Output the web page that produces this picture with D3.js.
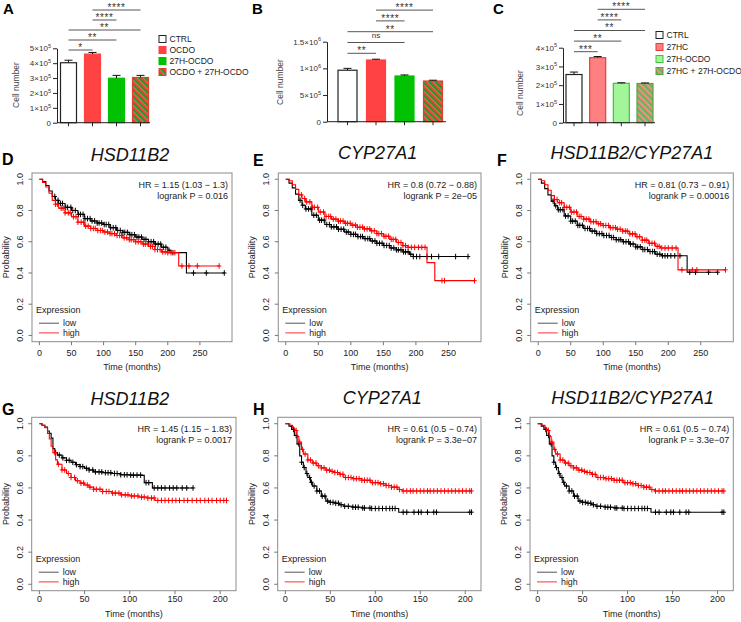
<!DOCTYPE html>
<html><head><meta charset="utf-8">
<script src="https://cdn.jsdelivr.net/npm/d3@7"></script>
<style>body{margin:0;background:#fff}svg{display:block;font-family:"Liberation Sans",Arial,sans-serif}</style>
</head><body><svg id="c" width="741" height="622"></svg>
<script>
// ---------- Bar chart data ----------
const barCatsA = ["CTRL","OCDO","27H-OCDO","OCDO + 27H-OCDO"];
const barMeansA = [4.03e5, 4.61e5, 2.99e5, 3.04e5];
const barErrsA = [0.17e5, 0.11e5, 0.19e5, 0.14e5];
const sigPairsA = [[0,1,"*"],[0,2,"**"],[0,3,"**"],[1,2,"****"],[1,3,"****"]];
const yTicksA = [0,1e5,2e5,3e5,4e5,5e5];
const yTickLabelsA = ["0","1×10^5","2×10^5","3×10^5","4×10^5","5×10^5"];

const barCatsB = ["CTRL","OCDO","27H-OCDO","OCDO + 27H-OCDO"];
const barMeansB = [9.65e5, 1.157e6, 8.57e5, 7.63e5];
const barErrsB = [0.35e5, 0.15e5, 0.2e5, 0.15e5];
const sigPairsB = [[0,1,"**"],[0,2,"ns"],[0,3,"**"],[1,2,"****"],[1,3,"****"]];
const yTicksB = [0,5e5,1e6,1.5e6];
const yTickLabelsB = ["0","5×10^5","1×10^6","1.5×10^6"];

const barCatsC = ["CTRL","27HC","27H-OCDO","27HC + 27H-OCDO"];
const barMeansC = [2.57e5, 3.47e5, 2.10e5, 2.09e5];
const barErrsC = [0.13e5, 0.06e5, 0.03e5, 0.03e5];
const sigPairsC = [[0,1,"***"],[0,2,"**"],[0,3,"**"],[1,2,"****"],[1,3,"****"]];
const yTicksC = [0,1e5,2e5,3e5,4e5];
const yTickLabelsC = ["0","1×10^5","2×10^5","3×10^5","4×10^5"];

// ---------- Kaplan-Meier data: [months, survival probability] ----------
const xTicksRow1 = [0,50,100,150,200,250];
const xTicksRow2 = [0,50,100,150,200];
const yTicksKM = [0,0.2,0.4,0.6,0.8,1.0];

const dLow = [[0,1],[5,0.985],[10,0.96],[15,0.925],[20,0.89],[25,0.865],[30,0.845],[40,0.82],[50,0.80],[60,0.775],[70,0.748],[80,0.733],[90,0.72],[100,0.71],[110,0.69],[120,0.672],[130,0.66],[140,0.645],[150,0.63],[160,0.615],[170,0.60],[180,0.585],[190,0.565],[200,0.545],[205,0.53],[229,0.40],[288,0.40]];
const dHigh = [[0,1],[5,0.98],[10,0.95],[15,0.91],[20,0.865],[25,0.84],[30,0.815],[40,0.785],[50,0.76],[60,0.725],[70,0.70],[80,0.685],[90,0.672],[100,0.662],[110,0.652],[120,0.64],[130,0.625],[140,0.613],[150,0.60],[160,0.585],[170,0.57],[180,0.55],[190,0.535],[200,0.53],[217,0.445],[280,0.445]];
const dLowCens = [24,29,33,36,41,44,49,52,56,61,64,68,71,75,79,82,86,90,93,97,101,104,108,111,115,119,122,126,130,133,137,141,144,148,152,155,159,163,166,170,174,178,181,185,189,193,197,202,208,240,260,288];
const dHighCens = [25,28,34,37,40,45,48,53,57,60,65,69,72,76,80,84,87,91,95,98,102,106,110,113,117,121,125,128,132,136,140,143,147,150,154,158,162,165,169,173,176,180,184,188,192,196,200,205,211,222,233,246,280];

const eLow = [[0,1],[5,0.975],[10,0.945],[15,0.905],[20,0.865],[25,0.834],[30,0.81],[40,0.77],[50,0.738],[60,0.71],[70,0.695],[80,0.68],[90,0.662],[100,0.647],[110,0.633],[120,0.62],[130,0.605],[140,0.59],[150,0.576],[160,0.56],[170,0.548],[180,0.535],[190,0.52],[196,0.505],[281,0.505]];
const eHigh = [[0,1],[5,0.99],[10,0.965],[15,0.935],[20,0.9],[25,0.877],[30,0.855],[40,0.82],[50,0.79],[60,0.762],[70,0.745],[80,0.732],[90,0.718],[100,0.706],[110,0.693],[120,0.682],[130,0.67],[140,0.652],[150,0.635],[160,0.615],[170,0.595],[180,0.575],[188,0.564],[217,0.466],[229,0.351],[290,0.351]];
const eLowCens = [22,26,31,35,39,43,47,52,55,59,63,67,70,74,78,81,85,89,93,96,100,104,107,111,115,118,122,126,129,133,137,140,144,148,151,155,159,162,166,170,173,177,181,184,188,192,196,201,206,217,224,235,261,280];
const eHighCens = [24,29,32,37,41,44,49,53,58,62,66,69,73,77,81,84,88,92,95,99,103,107,110,114,118,121,125,129,132,136,140,143,147,151,154,158,162,165,169,173,177,180,184,188,193,198,204,209,214,240,244,290];

const fLow = [[0,1],[5,0.975],[10,0.94],[15,0.9],[20,0.86],[25,0.83],[30,0.805],[40,0.765],[50,0.732],[60,0.705],[70,0.685],[80,0.668],[90,0.652],[100,0.64],[110,0.627],[120,0.613],[130,0.6],[140,0.585],[150,0.567],[160,0.55],[170,0.537],[180,0.52],[190,0.51],[229,0.405],[276,0.405]];
const fHigh = [[0,1],[5,0.99],[10,0.965],[15,0.93],[20,0.895],[25,0.87],[30,0.85],[40,0.82],[50,0.79],[60,0.762],[70,0.745],[80,0.728],[90,0.715],[100,0.704],[110,0.69],[120,0.68],[130,0.668],[140,0.65],[150,0.632],[160,0.61],[170,0.59],[180,0.57],[188,0.56],[215,0.42],[288,0.42]];
const fLowCens = [23,27,31,34,38,42,46,50,53,57,61,64,68,72,76,79,83,87,90,94,98,101,105,109,113,116,120,124,127,131,135,139,142,146,150,153,157,161,164,168,172,176,179,183,187,191,195,199,204,210,218,233,242,262,276];
const fHighCens = [25,29,33,36,40,44,48,51,55,59,63,66,70,74,78,81,85,89,93,96,100,104,108,111,115,119,122,126,130,134,137,141,145,149,152,156,160,164,167,171,175,179,183,186,190,195,200,206,212,221,237,244,288];

const gLow = [[0,1],[3,0.99],[6,0.98],[9,0.955],[11,0.94],[13,0.91],[15,0.845],[17,0.82],[20,0.805],[25,0.787],[30,0.772],[35,0.76],[40,0.745],[45,0.733],[50,0.722],[55,0.712],[60,0.70],[70,0.695],[80,0.69],[90,0.682],[100,0.68],[114,0.678],[116,0.633],[125,0.60],[170,0.60]];
const gHigh = [[0,1],[3,0.99],[6,0.975],[9,0.94],[11,0.905],[13,0.86],[15,0.82],[18,0.775],[20,0.748],[25,0.712],[30,0.69],[35,0.665],[40,0.645],[45,0.63],[50,0.618],[55,0.605],[60,0.592],[70,0.578],[80,0.568],[90,0.557],[100,0.55],[110,0.543],[120,0.537],[128,0.522],[207,0.522]];
const gLowCens = [18,22,26,30,33,37,41,45,48,52,55,59,62,66,69,73,76,79,83,86,90,94,97,101,104,108,112,118,121,127,131,135,139,144,148,152,158,163,170];
const gHighCens = [17,21,25,28,32,35,39,42,46,49,53,56,60,63,67,70,74,77,81,84,88,91,95,98,102,105,109,113,116,120,124,127,131,135,139,143,147,151,155,160,164,169,174,178,183,187,191,196,200,204,207];

const hLow = [[0,1],[4,0.985],[7,0.965],[10,0.927],[13,0.874],[16,0.80],[18,0.76],[20,0.727],[23,0.69],[25,0.665],[28,0.635],[30,0.612],[35,0.581],[40,0.549],[45,0.518],[50,0.51],[55,0.505],[60,0.495],[65,0.486],[75,0.48],[85,0.475],[95,0.472],[126,0.449],[207,0.449]];
const hHigh = [[0,1],[5,0.99],[8,0.975],[10,0.958],[13,0.92],[15,0.885],[18,0.84],[20,0.811],[25,0.774],[30,0.755],[35,0.738],[40,0.725],[45,0.711],[50,0.703],[55,0.696],[60,0.685],[65,0.665],[75,0.658],[85,0.648],[95,0.633],[105,0.626],[112,0.615],[118,0.605],[125,0.59],[130,0.581],[207,0.581]];
const hLowCens = [9,12,15,18,21,24,27,29,32,35,38,41,44,47,50,53,56,59,62,66,70,75,78,81,86,88,94,96,100,104,108,112,116,119,122,131,135,143,148,151,158,165,168,205,207];
const hHighCens = [12,16,19,22,25,28,31,34,37,40,43,46,49,52,55,58,61,64,67,70,73,76,79,82,85,88,91,94,97,100,103,106,109,112,115,118,121,124,127,131,135,139,142,146,150,154,158,161,165,169,173,177,181,185,189,193,197,201,205,207];

// ---------- drawing ----------
const svg = d3.select("#c");
svg.append("rect").attr("width",741).attr("height",622).attr("fill","#fff");
const defs = svg.append("defs");
function stripe(id, c1, c2) {
  const p = defs.append("pattern").attr("id", id).attr("patternUnits","userSpaceOnUse")
    .attr("width",4.4).attr("height",4.4).attr("patternTransform","rotate(-45)");
  p.append("rect").attr("width",2.2).attr("height",4.4).attr("fill",c1);
  p.append("rect").attr("x",2.2).attr("width",2.2).attr("height",4.4).attr("fill",c2);
}
stripe("stripeA", "#ff3a3a", "#1f9a1f");
stripe("stripeC", "#f58080", "#5cb84f");

function superLabel(sel, str, fs) {
  const parts = str.split("^");
  sel.text(null);
  sel.append("tspan").text(parts[0]);
  if (parts[1]) sel.append("tspan").attr("dy", -3.3).attr("font-size", fs * 0.7).text(parts[1]);
}

function drawBar(L, cats, means, errs, sigs, ticks, tickLabels) {
  const g = svg.append("g");
  const x = d3.scalePoint().domain(cats).range([L.x0, L.x1]);
  const y = d3.scaleLinear().domain([0, L.yMax]).range([L.base, L.top]);
  g.selectAll("rect.bar").data(cats).join("rect")
    .attr("x", d => x(d) - L.bw / 2).attr("y", (d, i) => y(means[i]))
    .attr("width", L.bw).attr("height", (d, i) => y(0) - y(means[i]))
    .attr("fill", (d, i) => L.fills[i]).attr("stroke", (d, i) => L.strokes[i]).attr("stroke-width", 1.2);
  cats.forEach((c, i) => {
    const cx = x(c), y0 = y(means[i]), y1 = y(means[i] + errs[i]);
    g.append("path").attr("d", `M${cx},${y0}V${y1}M${cx - 4},${y1}H${cx + 4}`)
      .attr("stroke", "#111").attr("stroke-width", 1).attr("fill", "none");
  });
  const ax = g.append("g").attr("transform", `translate(${L.axisX},0)`)
    .call(d3.axisLeft(y).tickValues(ticks).tickSize(4).tickSizeOuter(0).tickPadding(2));
  ax.select(".domain").attr("stroke", "#222");
  ax.selectAll(".tick line").attr("stroke", "#222");
  ax.selectAll(".tick text").attr("font-size", 8).attr("fill", "#333")
    .attr("font-family", '"Liberation Sans",Arial,sans-serif')
    .each(function (d, i) { superLabel(d3.select(this), tickLabels[i], 8); });
  g.append("line").attr("x1", L.axisX).attr("x2", L.xEnd).attr("y1", L.base).attr("y2", L.base)
    .attr("stroke", "#222").attr("stroke-width", 1);
  cats.forEach(c => g.append("line").attr("x1", x(c)).attr("x2", x(c)).attr("y1", L.base).attr("y2", L.base + 3.5)
    .attr("stroke", "#222"));
  g.append("text").attr("transform", `translate(${L.labX},${L.labY}) rotate(-90)`)
    .attr("text-anchor", "middle").attr("font-size", 8.5).attr("fill", "#444").text("Cell number");
  sigs.forEach((s, k) => {
    const yy = L.sigBase - k * L.sigStep;
    const xa = x(cats[s[0]]), xb = x(cats[s[1]]);
    g.append("line").attr("x1", xa).attr("x2", xb).attr("y1", yy).attr("y2", yy)
      .attr("stroke", "#555").attr("stroke-width", 1);
    const isNs = s[2] === "ns";
    g.append("text").attr("x", (xa + xb) / 2).attr("y", isNs ? yy - 4.5 : yy + 0.8)
      .attr("text-anchor", "middle").attr("font-size", isNs ? 8 : 10).attr("fill", "#333")
      .attr("letter-spacing", isNs ? 0 : 0.6).text(s[2]);
  });
  svg.append("text").attr("x", L.letX).attr("y", 14).attr("font-size", 15).attr("font-weight", "bold").text(L.letter);
  if (L.legX !== undefined) {
    cats.forEach((c, i) => {
      const ly = L.legY + i * L.legStep;
      g.append("rect").attr("x", L.legX).attr("y", ly - 3.5).attr("width", 7).attr("height", 7)
        .attr("fill", L.fills[i]).attr("stroke", L.strokes[i]).attr("stroke-width", 1);
      g.append("text").attr("x", L.legX + 10.5).attr("y", ly).attr("dy", "0.35em")
        .attr("font-size", 8.5).attr("fill", "#222").text(c);
    });
  }
}

drawBar({letter:"A", letX:3, axisX:57, x0:68.5, x1:140.5, bw:16, base:122.7, top:48.3, yMax:5e5, xEnd:150,
  fills:["#fff","#ff4242","#00c200","url(#stripeA)"], strokes:["#222","#ff4242","#00c200","#e04030"],
  labX:19, labY:85, sigBase:50, sigStep:10, legX:159, legY:39, legStep:11},
  barCatsA, barMeansA, barErrsA, sigPairsA, yTicksA, yTickLabelsA);
drawBar({letter:"B", letX:252, axisX:327, x0:347.5, x1:433, bw:19, base:121.7, top:41.7, yMax:1.5e6, xEnd:446,
  fills:["#fff","#ff4242","#00c200","url(#stripeA)"], strokes:["#222","#ff4242","#00c200","#e04030"],
  labX:283, labY:82, sigBase:53.3, sigStep:10.8},
  barCatsB, barMeansB, barErrsB, sigPairsB, yTicksB, yTickLabelsB);
drawBar({letter:"C", letX:493, axisX:563, x0:574, x1:645, bw:16, base:122.7, top:47.7, yMax:4e5, xEnd:655,
  fills:["#fff","#ff8080","#a3f59a","url(#stripeC)"], strokes:["#222","#e83c3c","#42c042","#4aa83c"],
  labX:523, labY:93, sigBase:51.7, sigStep:10.6, legX:656, legY:35, legStep:12},
  barCatsC, barMeansC, barErrsC, sigPairsC, yTicksC, yTickLabelsC);

// ---------- KM panels ----------
function stepValue(curve, t) {
  let v = curve[0][1];
  for (const p of curve) { if (p[0] <= t) v = p[1]; else break; }
  return v;
}
function drawKM(P, low, high, lowCens, highCens, xTicks) {
  const g = svg.append("g");
  const x = d3.scaleLinear().domain(P.xDom).range([P.left, P.right]);
  const y = d3.scaleLinear().domain([-0.04, 1.04]).range([P.bottom, P.top]);
  const line = d3.line().x(d => x(d[0])).y(d => y(d[1])).curve(d3.curveStepAfter);
  [[low, lowCens, "#000"], [high, highCens, "#ff0000"]].forEach(([cv, cens, col]) => {
    g.append("path").attr("d", line(cv)).attr("fill", "none").attr("stroke", col).attr("stroke-width", 1.1);
    g.append("path").attr("d", cens.map(t => {
      const cx = x(t), cy = y(stepValue(cv, t));
      return `M${cx - 2.2},${cy}H${cx + 2.2}M${cx},${cy - 2.8}V${cy + 2.8}`;
    }).join("")).attr("stroke", col).attr("stroke-width", 1).attr("fill", "none");
  });
  g.append("rect").attr("x", P.left).attr("y", P.top).attr("width", P.right - P.left).attr("height", P.bottom - P.top)
    .attr("fill", "none").attr("stroke", "#8c8c8c").attr("stroke-width", 1);
  xTicks.forEach(t => {
    g.append("line").attr("x1", x(t)).attr("x2", x(t)).attr("y1", P.bottom).attr("y2", P.bottom + 3.5).attr("stroke", "#777");
    g.append("text").attr("x", x(t)).attr("y", P.bottom + P.xLabOff).attr("dy", "0.35em")
      .attr("text-anchor", "middle").attr("font-size", 9).attr("fill", "#222").text(t);
  });
  yTicksKM.forEach(v => {
    g.append("line").attr("x1", P.left - 3.5).attr("x2", P.left).attr("y1", y(v)).attr("y2", y(v)).attr("stroke", "#777");
    g.append("text").attr("transform", `translate(${P.left - 12},${y(v)}) rotate(-90)`).attr("dy", "0.35em")
      .attr("text-anchor", "middle").attr("font-size", 9).attr("fill", "#222").text(v.toFixed(1));
  });
  g.append("text").attr("x", (P.left + P.right) / 2).attr("y", P.bottom + P.xTitleOff).attr("dy", "0.35em")
    .attr("text-anchor", "middle").attr("font-size", 9).attr("fill", "#222").text("Time (months)");
  g.append("text").attr("transform", `translate(${P.left - 26},${(P.top + P.bottom) / 2}) rotate(-90)`).attr("dy", "0.35em")
    .attr("text-anchor", "middle").attr("font-size", 9).attr("fill", "#222").text("Probability");
  g.append("text").attr("x", P.right - 4).attr("y", P.top + 15).attr("text-anchor", "end")
    .attr("font-size", 9).attr("fill", "#222").text(P.hr);
  g.append("text").attr("x", P.right - 4).attr("y", P.top + 26).attr("text-anchor", "end")
    .attr("font-size", 9).attr("fill", "#222").text(P.p);
  // legend
  g.append("text").attr("x", P.left + 4).attr("y", P.bottom - 28.5).attr("font-size", 9).attr("fill", "#222").text("Expression");
  [["low", "#555", -18.5], ["high", "#ff3030", -8.8]].forEach(([lab, col, off]) => {
    g.append("line").attr("x1", P.left + 7).attr("x2", P.left + 27).attr("y1", P.bottom + off).attr("y2", P.bottom + off)
      .attr("stroke", col).attr("stroke-width", 1);
    g.append("text").attr("x", P.left + 31).attr("y", P.bottom + off).attr("dy", "0.33em")
      .attr("font-size", 8.8).attr("fill", "#222").text(lab);
  });
  svg.append("text").attr("x", (P.left + P.right) / 2 + P.titleDx).attr("y", P.titleY).attr("text-anchor", "middle")
    .attr("font-size", 18).attr("font-style", "italic").attr("fill", "#111").text(P.title);
  svg.append("text").attr("x", P.letX).attr("y", P.letY).attr("font-size", 16).attr("font-weight", "bold").text(P.letter);
}

const row1 = {top:173, bottom:341.7, xDom:[-11.5,300], xLabOff:11, xTitleOff:25};
const row2 = {top:417.3, bottom:590.7, xDom:[-8.5,217.5], xLabOff:8.5, xTitleOff:23};

drawKM({...row1, left:32, right:232, title:"HSD11B2", titleY:161, titleDx:-2, letter:"D", letX:2, letY:165,
  hr:"HR = 1.15 (1.03 − 1.3)", p:"logrank P = 0.016"}, dLow, dHigh, dLowCens, dHighCens, xTicksRow1);
drawKM({...row1, left:278.3, right:481, title:"CYP27A1", titleY:159, titleDx:-2, letter:"E", letX:253, letY:166,
  hr:"HR = 0.8 (0.72 − 0.88)", p:"logrank P = 2e−05"}, eLow, eHigh, eLowCens, eHighCens, xTicksRow1);
drawKM({...row1, left:530.7, right:733.3, title:"HSD11B2/CYP27A1", titleY:159, titleDx:0, letter:"F", letX:497, letY:166,
  hr:"HR = 0.81 (0.73 − 0.91)", p:"logrank P = 0.00016"}, fLow, fHigh, fLowCens, fHighCens, xTicksRow1);
drawKM({...row2, left:31.7, right:236, title:"HSD11B2", titleY:405, titleDx:-4, letter:"G", letX:2, letY:415,
  hr:"HR = 1.45 (1.15 − 1.83)", p:"logrank P = 0.0017"}, gLow, gHigh, gLowCens, gHighCens, xTicksRow2);
drawKM({...row2, left:277.7, right:481, title:"CYP27A1", titleY:404, titleDx:3, letter:"H", letX:253, letY:415,
  hr:"HR = 0.61 (0.5 − 0.74)", p:"logrank P = 3.3e−07"}, hLow, hHigh, hLowCens, hHighCens, xTicksRow2);
drawKM({...row2, left:530, right:733.3, title:"HSD11B2/CYP27A1", titleY:404, titleDx:1, letter:"I", letX:497, letY:415,
  hr:"HR = 0.61 (0.5 − 0.74)", p:"logrank P = 3.3e−07"}, hLow, hHigh, hLowCens, hHighCens, xTicksRow2);
</script>
</body></html>
